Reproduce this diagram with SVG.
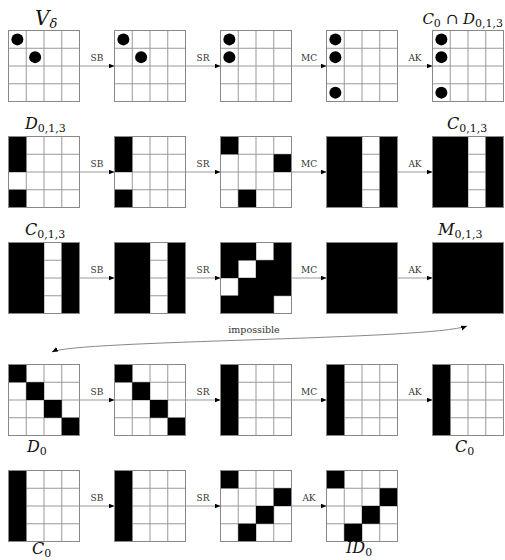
<svg xmlns="http://www.w3.org/2000/svg" xmlns:xlink="http://www.w3.org/1999/xlink" width="505" height="560" viewBox="0 0 505 560">
<style>
.op{font-family:'DejaVu Serif','Liberation Serif',serif;font-size:9px;fill:#333;text-anchor:middle}
.math{font-family:'DejaVu Serif','Liberation Serif',serif;font-size:16px;fill:#111}
.cal{font-style:italic}
.sub{font-size:11px}
.imp{font-family:'DejaVu Serif','Liberation Serif',serif;font-size:9.5px;fill:#333;text-anchor:middle}
.b{fill:#000}
.arr{stroke:#999;stroke-width:1;fill:none;marker-end:url(#head)}
</style>
<defs>
<marker id="head" markerUnits="userSpaceOnUse" markerWidth="7" markerHeight="6" refX="6" refY="2.5" orient="auto-start-reverse"><path d="M0,0 L6,2.5 L0,5 z" fill="#000"/></marker>
<rect id="bg" x="0" y="0" width="71" height="71" fill="#fff"/>
<path id="lines" d="M17.75,0V71M35.5,0V71M53.25,0V71M0,17.75H71M0,35.5H71M0,53.25H71" stroke="#999" stroke-width="1" fill="none"/>
<rect id="border" x="0" y="0" width="71" height="71" fill="none" stroke="#888" stroke-width="1"/>
</defs>

<!-- Row 1 -->
<g id="r1g1" transform="translate(8.5,30.5)"><use href="#bg"/><use href="#lines"/><circle class="b" cx="8.875" cy="8.875" r="6"/><circle class="b" cx="26.625" cy="26.625" r="6"/><use href="#border"/></g>
<g id="r1g2" transform="translate(114.5,30.5)"><use href="#bg"/><use href="#lines"/><circle class="b" cx="8.875" cy="8.875" r="6"/><circle class="b" cx="26.625" cy="26.625" r="6"/><use href="#border"/></g>
<g id="r1g3" transform="translate(220.5,30.5)"><use href="#bg"/><use href="#lines"/><circle class="b" cx="8.875" cy="8.875" r="6"/><circle class="b" cx="8.875" cy="26.625" r="6"/><use href="#border"/></g>
<g id="r1g4" transform="translate(326.5,30.5)"><use href="#bg"/><use href="#lines"/><circle class="b" cx="8.875" cy="8.875" r="6"/><circle class="b" cx="8.875" cy="26.625" r="6"/><circle class="b" cx="8.875" cy="62.125" r="6"/><use href="#border"/></g>
<g id="r1g5" transform="translate(432.5,30.5)"><use href="#bg"/><use href="#lines"/><circle class="b" cx="8.875" cy="8.875" r="6"/><circle class="b" cx="8.875" cy="26.625" r="6"/><circle class="b" cx="8.875" cy="62.125" r="6"/><use href="#border"/></g>

<!-- Row 2 -->
<g id="r2g1" transform="translate(8.5,136.5)"><use href="#bg"/><use href="#lines"/><rect class="b" x="0" y="0" width="17.75" height="35.5"/><rect class="b" x="0" y="53.25" width="17.75" height="17.75"/><use href="#border"/></g>
<g id="r2g2" transform="translate(114.5,136.5)"><use href="#bg"/><use href="#lines"/><rect class="b" x="0" y="0" width="17.75" height="35.5"/><rect class="b" x="0" y="53.25" width="17.75" height="17.75"/><use href="#border"/></g>
<g id="r2g3" transform="translate(220.5,136.5)"><use href="#bg"/><use href="#lines"/><rect class="b" x="0" y="0" width="17.75" height="17.75"/><rect class="b" x="53.25" y="17.75" width="17.75" height="17.75"/><rect class="b" x="17.75" y="53.25" width="17.75" height="17.75"/><use href="#border"/></g>
<g id="r2g4" transform="translate(326.5,136.5)"><use href="#bg"/><use href="#lines"/><rect class="b" x="0" y="0" width="35.5" height="71"/><rect class="b" x="53.25" y="0" width="17.75" height="71"/><use href="#border"/></g>
<g id="r2g5" transform="translate(432.5,136.5)"><use href="#bg"/><use href="#lines"/><rect class="b" x="0" y="0" width="35.5" height="71"/><rect class="b" x="53.25" y="0" width="17.75" height="71"/><use href="#border"/></g>

<!-- Row 3 -->
<g id="r3g1" transform="translate(8.5,242.5)"><use href="#bg"/><use href="#lines"/><rect class="b" x="0" y="0" width="35.5" height="71"/><rect class="b" x="53.25" y="0" width="17.75" height="71"/><use href="#border"/></g>
<g id="r3g2" transform="translate(114.5,242.5)"><use href="#bg"/><use href="#lines"/><rect class="b" x="0" y="0" width="35.5" height="71"/><rect class="b" x="53.25" y="0" width="17.75" height="71"/><use href="#border"/></g>
<g id="r3g3" transform="translate(220.5,242.5)"><use href="#bg"/><use href="#lines"/><path class="b" d="M0,0H35.5V17.75H53.25V0H71V53.25H53.25V71H0V53.25H17.75V35.5H35.5V17.75H17.75V35.5H0Z"/><use href="#border"/></g>
<g id="r3g4" transform="translate(326.5,242.5)"><use href="#bg"/><rect class="b" x="0" y="0" width="71" height="71"/><use href="#border"/></g>
<g id="r3g5" transform="translate(432.5,242.5)"><use href="#bg"/><rect class="b" x="0" y="0" width="71" height="71"/><use href="#border"/></g>

<!-- Row 4 -->
<g id="r4g1" transform="translate(8.5,364.5)"><use href="#bg"/><use href="#lines"/><rect class="b" x="0" y="0" width="17.75" height="17.75"/><rect class="b" x="17.75" y="17.75" width="17.75" height="17.75"/><rect class="b" x="35.5" y="35.5" width="17.75" height="17.75"/><rect class="b" x="53.25" y="53.25" width="17.75" height="17.75"/><use href="#border"/></g>
<g id="r4g2" transform="translate(114.5,364.5)"><use href="#bg"/><use href="#lines"/><rect class="b" x="0" y="0" width="17.75" height="17.75"/><rect class="b" x="17.75" y="17.75" width="17.75" height="17.75"/><rect class="b" x="35.5" y="35.5" width="17.75" height="17.75"/><rect class="b" x="53.25" y="53.25" width="17.75" height="17.75"/><use href="#border"/></g>
<g id="r4g3" transform="translate(220.5,364.5)"><use href="#bg"/><use href="#lines"/><rect class="b" x="0" y="0" width="17.75" height="71"/><use href="#border"/></g>
<g id="r4g4" transform="translate(326.5,364.5)"><use href="#bg"/><use href="#lines"/><rect class="b" x="0" y="0" width="17.75" height="71"/><use href="#border"/></g>
<g id="r4g5" transform="translate(432.5,364.5)"><use href="#bg"/><use href="#lines"/><rect class="b" x="0" y="0" width="17.75" height="71"/><use href="#border"/></g>

<!-- Row 5 -->
<g id="r5g1" transform="translate(8.5,470.5)"><use href="#bg"/><use href="#lines"/><rect class="b" x="0" y="0" width="17.75" height="71"/><use href="#border"/></g>
<g id="r5g2" transform="translate(114.5,470.5)"><use href="#bg"/><use href="#lines"/><rect class="b" x="0" y="0" width="17.75" height="71"/><use href="#border"/></g>
<g id="r5g3" transform="translate(220.5,470.5)"><use href="#bg"/><use href="#lines"/><rect class="b" x="0" y="0" width="17.75" height="17.75"/><rect class="b" x="53.25" y="17.75" width="17.75" height="17.75"/><rect class="b" x="35.5" y="35.5" width="17.75" height="17.75"/><rect class="b" x="17.75" y="53.25" width="17.75" height="17.75"/><use href="#border"/></g>
<g id="r5g4" transform="translate(326.5,470.5)"><use href="#bg"/><use href="#lines"/><rect class="b" x="0" y="0" width="17.75" height="17.75"/><rect class="b" x="53.25" y="17.75" width="17.75" height="17.75"/><rect class="b" x="35.5" y="35.5" width="17.75" height="17.75"/><rect class="b" x="17.75" y="53.25" width="17.75" height="17.75"/><use href="#border"/></g>

<!-- Connectors -->
<g id="connectors">
<path class="arr" d="M79.5,66H114.5"/><path class="arr" d="M185.5,66H220.5"/><path class="arr" d="M291.5,66H326.5"/><path class="arr" d="M397.5,66H432.5"/>
<path class="arr" d="M79.5,172H114.5"/><path class="arr" d="M185.5,172H220.5"/><path class="arr" d="M291.5,172H326.5"/><path class="arr" d="M397.5,172H432.5"/>
<path class="arr" d="M79.5,278H114.5"/><path class="arr" d="M185.5,278H220.5"/><path class="arr" d="M291.5,278H326.5"/><path class="arr" d="M397.5,278H432.5"/>
<path class="arr" d="M79.5,400H114.5"/><path class="arr" d="M185.5,400H220.5"/><path class="arr" d="M291.5,400H326.5"/><path class="arr" d="M397.5,400H432.5"/>
<path class="arr" d="M79.5,506H114.5"/><path class="arr" d="M185.5,506H220.5"/><path class="arr" d="M291.5,506H326.5"/>
<path d="M52,352 C75,340 430,340 467,326" stroke="#888" stroke-width="1" fill="none" marker-start="url(#head)" marker-end="url(#head)"/>
</g>

<!-- Operation labels -->
<g id="oplabels">
<text class="op" x="97" y="61">SB</text><text class="op" x="203" y="61">SR</text><text class="op" x="309" y="61">MC</text><text class="op" x="415" y="61">AK</text>
<text class="op" x="97" y="167">SB</text><text class="op" x="203" y="167">SR</text><text class="op" x="309" y="167">MC</text><text class="op" x="415" y="167">AK</text>
<text class="op" x="97" y="273">SB</text><text class="op" x="203" y="273">SR</text><text class="op" x="309" y="273">MC</text><text class="op" x="415" y="273">AK</text>
<text class="op" x="97" y="395">SB</text><text class="op" x="203" y="395">SR</text><text class="op" x="309" y="395">MC</text><text class="op" x="415" y="395">AK</text>
<text class="op" x="97" y="501">SB</text><text class="op" x="203" y="501">SR</text><text class="op" x="309" y="501">AK</text>
<text class="imp" x="254" y="333">impossible</text>
</g>

<!-- Set labels -->
<g id="setlabels">
<text class="math" x="35" y="25" style="font-size:20px"><tspan class="cal">V</tspan><tspan class="cal" style="font-size:13px" dy="3">δ</tspan></text>
<text class="math" x="503" y="24" text-anchor="end" style="font-size:15px"><tspan class="cal">C</tspan><tspan class="sub" dy="3">0</tspan><tspan dy="-3"> ∩ </tspan><tspan class="cal">D</tspan><tspan class="sub" dy="3">0,1,3</tspan></text>
<text class="math" x="25" y="129"><tspan class="cal">D</tspan><tspan class="sub" dy="3">0,1,3</tspan></text>
<text class="math" x="447" y="129"><tspan class="cal">C</tspan><tspan class="sub" dy="3">0,1,3</tspan></text>
<text class="math" x="25" y="235"><tspan class="cal">C</tspan><tspan class="sub" dy="3">0,1,3</tspan></text>
<text class="math" x="438" y="235"><tspan class="cal">M</tspan><tspan class="sub" dy="3">0,1,3</tspan></text>
<text class="math" x="27" y="452"><tspan class="cal">D</tspan><tspan class="sub" dy="3">0</tspan></text>
<text class="math" x="455" y="452"><tspan class="cal">C</tspan><tspan class="sub" dy="3">0</tspan></text>
<text class="math" x="32" y="554"><tspan class="cal">C</tspan><tspan class="sub" dy="3">0</tspan></text>
<text class="math" x="346" y="553"><tspan class="cal">ID</tspan><tspan class="sub" dy="3">0</tspan></text>
</g>
</svg>
